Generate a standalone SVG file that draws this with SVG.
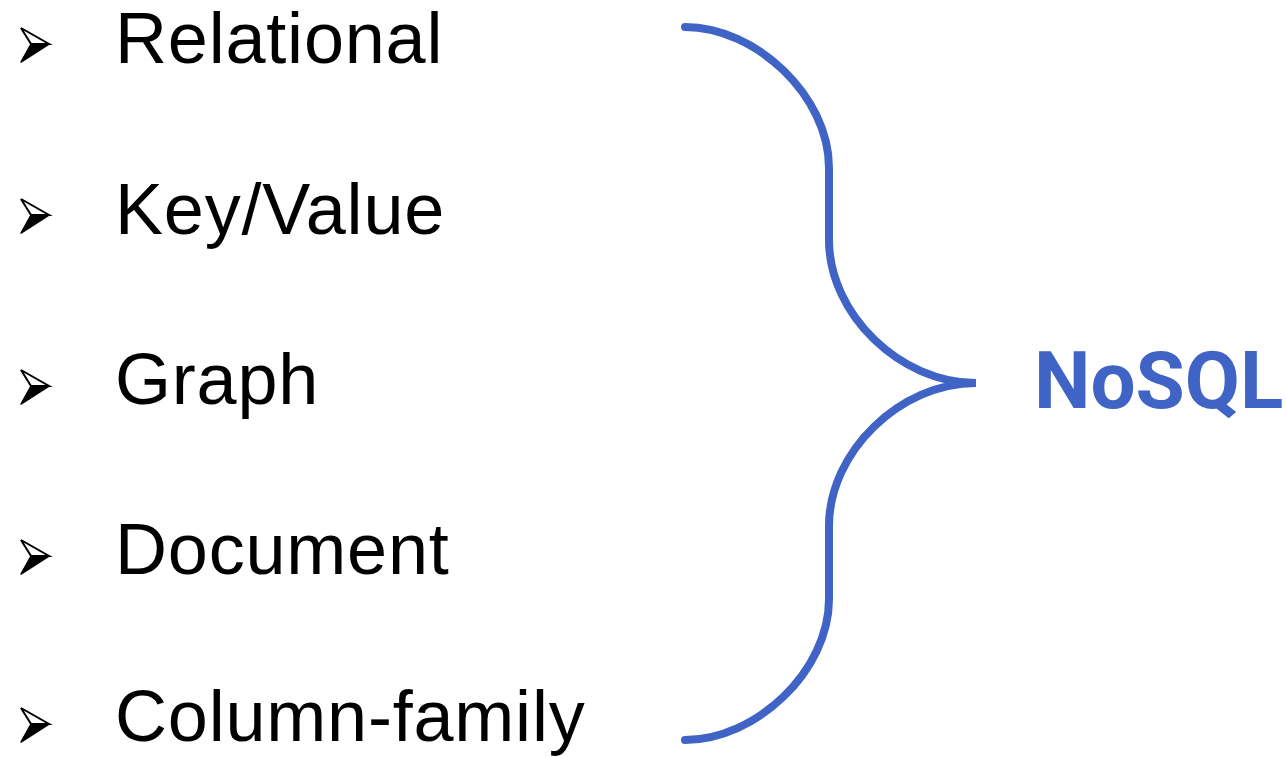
<svg xmlns="http://www.w3.org/2000/svg" width="1286" height="757" viewBox="0 0 1286 757">
<style>
.item{font-family:"Liberation Sans",Arial,sans-serif;font-size:72px;letter-spacing:0.8px;fill:#000}
.brace{fill:none;stroke:#4063C6;stroke-width:8;stroke-linecap:round}
.label{font-family:Roboto,"Liberation Sans",sans-serif;font-weight:bold;font-size:80px;fill:#4063C6}
</style>
<defs>
<g id="bullet">
<path d="M1,0 L29,16 L11,16 Z" fill="#fff" stroke="#000" stroke-width="2" stroke-linejoin="miter"/>
<path d="M11,16 L29,16 L1,34 Z" fill="#000" stroke="#000" stroke-width="1.5" stroke-linejoin="round"/>
</g>
</defs>
<rect width="1286" height="757" fill="#fff"/>
<g id="item-relational">
<use href="#bullet" x="20" y="28"/>
<text class="item" x="115" y="63">Relational</text>
</g>
<g id="item-keyvalue">
<use href="#bullet" x="20" y="199"/>
<text class="item" x="115" y="234">Key/Value</text>
</g>
<g id="item-graph">
<use href="#bullet" x="20" y="370"/>
<text class="item" x="115" y="404">Graph</text>
</g>
<g id="item-document">
<use href="#bullet" x="20" y="540"/>
<text class="item" x="115" y="574">Document</text>
</g>
<g id="item-columnfamily">
<use href="#bullet" x="20" y="708"/>
<text class="item" x="115" y="741">Column-family</text>
</g>
<g id="connectors">
<path class="brace" d="M685,27 C756,27 829,96 829,168 L829,240 C829,314 900,383 976,383 C900,383 829,452 829,526 L829,599 C829,671 756,740 685,740"/>
</g>
<g id="nosql">
<text class="label" x="1034" y="408">NoSQL</text>
</g>
</svg>
